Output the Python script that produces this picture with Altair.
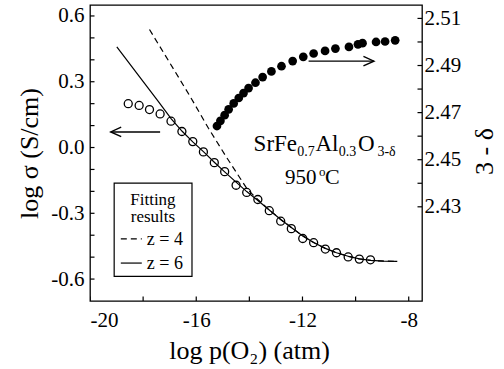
import altair as alt
import pandas as pd

FONT = "Liberation Serif"

# Measured conductivity: log pO2 (atm) vs log sigma (S/cm)
sigma_logp = [-18.56, -18.15, -17.76, -17.36, -16.95, -16.54, -16.13, -15.73,
              -15.32, -14.93, -14.50, -14.10, -13.68, -13.25, -12.82, -12.42,
              -11.99, -11.58, -11.14, -10.72, -10.28, -9.86, -9.44]
sigma_log = [0.200, 0.192, 0.173, 0.153, 0.120, 0.073, 0.027, -0.020,
             -0.069, -0.110, -0.172, -0.205, -0.237, -0.288, -0.336, -0.370,
             -0.415, -0.434, -0.463, -0.480, -0.499, -0.509, -0.512]

# Oxygen content 3 - delta vs log pO2
delta_logp = [-15.22, -15.09, -14.93, -14.78, -14.59, -14.40, -14.22, -14.03,
              -13.77, -13.50, -13.17, -12.79, -12.37, -11.97, -11.58, -11.15,
              -10.76, -10.25, -9.91, -9.74, -9.23, -8.89, -8.51]
delta_val = [2.4643, 2.4665, 2.4689, 2.4714, 2.4739, 2.4762, 2.4783, 2.4804,
             2.4827, 2.4851, 2.4875, 2.4897, 2.4919, 2.4937, 2.4951, 2.4962,
             2.4972, 2.4979, 2.4990, 2.4995, 2.5000, 2.5002, 2.5007]

# Defect-model fits
z4_logp = [-17.76, -16.98, -16.23, -15.54, -14.91, -14.45, -14.08, -13.68,
           -13.25, -12.82, -12.42, -11.99, -11.58, -11.14, -10.72, -10.28,
           -9.86, -9.43, -8.94, -8.43]
z4_log = [0.538, 0.383, 0.233, 0.088, -0.035, -0.121, -0.190, -0.237,
          -0.285, -0.328, -0.365, -0.403, -0.433, -0.460, -0.480, -0.496,
          -0.508, -0.515, -0.518, -0.519]
z6_logp = [-18.99, -18.19, -17.43, -16.94, -16.53, -16.13, -15.73, -15.32,
           -14.93, -14.50, -14.10, -13.68, -13.25, -12.82, -12.42, -11.99,
           -11.58, -11.14, -10.72, -10.28, -9.86, -9.43, -8.94, -8.43]
z6_log = [0.459, 0.331, 0.210, 0.131, 0.074, 0.026, -0.019, -0.067,
          -0.111, -0.158, -0.201, -0.242, -0.285, -0.328, -0.365, -0.403,
          -0.433, -0.460, -0.480, -0.496, -0.508, -0.515, -0.518, -0.519]

# Axis ticks and labels
x_ticks = [-20, -18, -16, -14, -12, -10, -8]
x_labels = [-20, -16, -12, -8]
left_ticks = [-0.6, -0.5, -0.4, -0.3, -0.2, -0.1, 0.0, 0.1, 0.2, 0.3, 0.4, 0.5, 0.6]
left_labels = [-0.6, -0.3, 0.0, 0.3, 0.6]
right_ticks = [2.43, 2.44, 2.45, 2.46, 2.47, 2.48, 2.49, 2.50, 2.51]
right_labels = [2.43, 2.45, 2.47, 2.49, 2.51]

X_MIN, X_MAX = -20, -7.5
Y_MIN, Y_MAX = -0.7, 0.65
R_MIN, R_MAX = 2.39, 2.5157

xs = alt.Scale(domain=[X_MIN, X_MAX], nice=False, zero=False)
ys = alt.Scale(domain=[Y_MIN, Y_MAX], nice=False, zero=False)
rs = alt.Scale(domain=[R_MIN, R_MAX], nice=False, zero=False)

common = dict(ticks=False, domain=False, grid=False, labelFont=FONT, labelFontSize=21,
              labelColor="black", titleFont=FONT, titleFontSize=26,
              titleFontWeight="normal", titleColor="black", titleAlign="center",
              titleBaseline="alphabetic")

x_axis = alt.Axis(values=x_labels, format="d", labelPadding=8,
                  title="log p(O\u2082) (atm)", titleX=159, titleY=57, **common)
y_axis = alt.Axis(values=left_labels, format=".1f", labelPadding=6,
                  title="log \u03c3 (S/cm)", titleAngle=270, titleX=-53, titleY=148,
                  **common)
r_axis = alt.Axis(orient="right", values=right_labels, format=".2f", labelPadding=2,
                  title="3 - \u03b4", titleAngle=270, titleX=70, titleY=146, **common)


def X(field):
    return alt.X(field, type="quantitative", scale=xs, axis=None)


def Y(field):
    return alt.Y(field, type="quantitative", scale=ys, axis=None)


def text(t, x, y, size, align="left"):
    df = pd.DataFrame({"x": [x], "y": [y], "t": [t]})
    return alt.Chart(df).mark_text(font=FONT, fontSize=size, align=align,
                                   baseline="alphabetic", color="black").encode(
        x=X("x"), y=Y("y"), text="t:N")


sigma_df = pd.DataFrame({"logp": sigma_logp, "val": sigma_log})
delta_df = pd.DataFrame({"logp": delta_logp, "val": delta_val})
z4_df = pd.DataFrame({"logp": z4_logp, "val": z4_log})
z6_df = pd.DataFrame({"logp": z6_logp, "val": z6_log})

open_pts = alt.Chart(sigma_df).mark_point(
    shape="circle", filled=False, size=64, stroke="black", strokeWidth=1.3, opacity=1
).encode(x=alt.X("logp:Q", scale=xs, axis=x_axis), y=alt.Y("val:Q", scale=ys, axis=y_axis))

filled_pts = alt.Chart(delta_df).mark_circle(size=76, color="black", opacity=1).encode(
    x=X("logp"), y=alt.Y("val:Q", scale=rs, axis=r_axis))

fit6 = alt.Chart(z6_df).mark_line(color="black", strokeWidth=1.2).encode(x=X("logp"), y=Y("val"))
fit4 = alt.Chart(z4_df).mark_line(color="black", strokeWidth=1.2, strokeDash=[6, 4]).encode(
    x=X("logp"), y=Y("val"))

# inward ticks on the bottom, left and right edges
bt_df = pd.DataFrame({"v": x_ticks, "edge": [Y_MIN] * len(x_ticks)})
bottom_ticks = alt.Chart(bt_df).mark_tick(orient="vertical", size=9, thickness=1.2,
                                          color="black", opacity=1, clip=True).encode(
    x=X("v"), y=Y("edge"))
lt_df = pd.DataFrame({"v": left_ticks, "edge": [X_MIN] * len(left_ticks)})
left_tick_marks = alt.Chart(lt_df).mark_tick(orient="horizontal", size=9, thickness=1.2,
                                             color="black", opacity=1, clip=True).encode(
    x=X("edge"), y=Y("v"))
rt_df = pd.DataFrame({"v": right_ticks, "edge": [X_MAX] * len(right_ticks)})
right_tick_marks = alt.Chart(rt_df).mark_tick(orient="horizontal", size=9, thickness=1.2,
                                              color="black", opacity=1, clip=True).encode(
    x=X("edge"), y=alt.Y("v:Q", scale=rs, axis=None))

# legend box for the fits
box_df = pd.DataFrame({"x": [-19.09], "x2": [-16.16], "y": [-0.162], "y2": [-0.588]})
box = alt.Chart(box_df).mark_rect(fill="white", stroke="black", strokeWidth=1.2).encode(
    x=X("x"), x2="x2", y=Y("y"), y2="y2")
key_df = pd.DataFrame({"x": [-18.84], "x2": [-18.05], "y4": [-0.417], "y6": [-0.527]})
key4 = alt.Chart(key_df).mark_rule(color="black", strokeWidth=1.2, strokeDash=[6, 4]).encode(
    x=X("x"), x2="x2", y=Y("y4"))
key6 = alt.Chart(key_df).mark_rule(color="black", strokeWidth=1.2).encode(
    x=X("x"), x2="x2", y=Y("y6"))

# arrows pointing to each axis
arrow_df = pd.DataFrame({"x": [-19.22, -11.77], "x2": [-17.36, -9.31], "y": [0.071, 0.394]})
shafts = alt.Chart(arrow_df).mark_rule(color="black", strokeWidth=1.4).encode(
    x=X("x"), x2="x2", y=Y("y"))
head_l = alt.Chart(pd.DataFrame({"x": [-19.22], "y": [0.071]})).mark_point(
    shape="M1,-0.45L0,0L1,0.45", filled=False, size=440, color="black",
    strokeWidth=1.4, opacity=1).encode(x=X("x"), y=Y("y"))
head_r = alt.Chart(pd.DataFrame({"x": [-9.31], "y": [0.394]})).mark_point(
    shape="M-1,-0.45L0,0L-1,0.45", filled=False, size=440, color="black",
    strokeWidth=1.4, opacity=1).encode(x=X("x"), y=Y("y"))

chart = alt.layer(
    open_pts, filled_pts, fit4, fit6,
    bottom_ticks, left_tick_marks, right_tick_marks,
    box, key4, key6,
    text("Fitting", -17.63, -0.261, 17, "center"),
    text("results", -17.63, -0.341, 17, "center"),
    text("z = 4", -17.86, -0.444, 18),
    text("z = 6", -17.86, -0.553, 18),
    shafts, head_l, head_r,
    text("SrFe", -13.84, -0.015, 23),
    text("0.7", -12.20, -0.038, 14),
    text("Al", -11.51, -0.015, 23),
    text("0.3", -10.63, -0.038, 14),
    text("O", -9.91, -0.015, 23),
    text("3-\u03b4", -9.18, -0.038, 14),
    text("950", -12.66, -0.167, 21),
    text("o", -11.38, -0.130, 13),
    text("C", -11.15, -0.167, 22),
).resolve_scale(x="independent", y="independent").properties(
    width=332, height=296,
    autosize=alt.AutoSizeParams(type="none"),
    padding={"left": 90, "top": 5, "right": 82, "bottom": 68},
    background="white",
).configure(
    locale={"number": {"decimal": ".", "thousands": ",", "grouping": [3],
                       "currency": ["", ""], "minus": "-"}}
).configure_view(stroke="black", strokeWidth=1.3)

chart.save("out.html", embed_options={"renderer": "svg", "actions": False})
